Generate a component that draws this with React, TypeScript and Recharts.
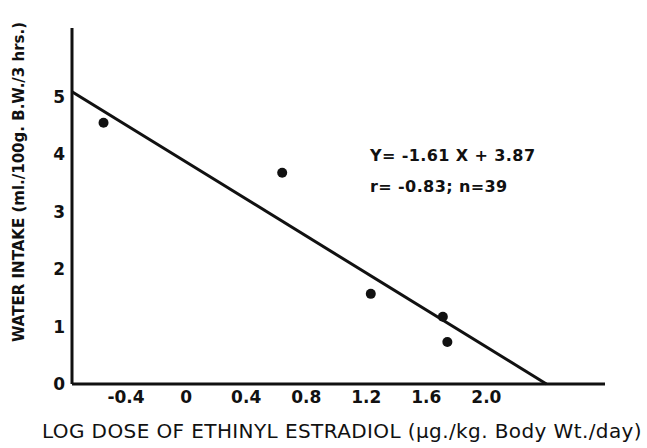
import { ScatterChart, Scatter, XAxis, YAxis, ReferenceLine } from 'recharts';

const FONT = '"DejaVu Sans", sans-serif';
const INK = '#111';

// log dose vs water intake
const logDose = [-0.55, 0.64, 1.23, 1.71, 1.74];
const waterIntake = [4.55, 3.68, 1.57, 1.17, 0.73];

// regression line end points (Y = -1.61 X + 3.87), as drawn
const fitX = [-0.76, 2.4];
const fitY = [5.09, 0];

const xTicks = [-0.4, 0, 0.4, 0.8, 1.2, 1.6, 2.0];
const xTickLabels = ['-0.4', '0', '0.4', '0.8', '1.2', '1.6', '2.0'];
const yTicks = [0, 1, 2, 3, 4, 5];

const points = logDose.map((x, i) => ({ x, y: waterIntake[i] }));

const tickStyle = { fill: INK, fontSize: 17, fontWeight: 600, fontFamily: FONT };

export default function App() {
  return (
    <div style={{ position: 'absolute', left: 0, top: 0, width: 647, height: 448, background: '#fff' }}>
      <ScatterChart
        width={647}
        height={448}
        margin={{ top: 28, right: 42, left: 0, bottom: 0 }}
      >
        <XAxis
          type="number"
          dataKey="x"
          domain={[-0.76, 2.79]}
          ticks={xTicks}
          tickFormatter={(v: number) => xTickLabels[xTicks.indexOf(v)] ?? String(v)}
          height={64}
          axisLine={{ stroke: INK, strokeWidth: 3 }}
          tickLine={false}
          tickSize={0}
          tickMargin={7}
          tick={tickStyle}
          interval={0}
        />
        <YAxis
          type="number"
          dataKey="y"
          domain={[0, 6.2]}
          ticks={yTicks}
          width={72}
          axisLine={{ stroke: INK, strokeWidth: 3 }}
          tickLine={false}
          tickSize={0}
          tickMargin={7}
          tick={tickStyle}
          interval={0}
        />
        <ReferenceLine
          segment={[
            { x: fitX[0], y: fitY[0] },
            { x: fitX[1], y: fitY[1] },
          ]}
          stroke={INK}
          strokeWidth={3}
          ifOverflow="visible"
        />
        <Scatter
          data={points}
          isAnimationActive={false}
          shape={(p: any) => <circle cx={p.cx} cy={p.cy} r={5} fill={INK} />}
        />
      </ScatterChart>
      <svg
        width={647}
        height={448}
        style={{ position: 'absolute', left: 0, top: 0, pointerEvents: 'none' }}
        fontFamily={FONT}
        fill={INK}
      >
        <text transform="translate(24,182) rotate(-90)" textAnchor="middle" fontSize={15} fontWeight={600}>
          WATER INTAKE (ml./100g. B.W./3 hrs.)
        </text>
        <text x={342} y={438} textAnchor="middle" fontSize={20} fontWeight={500} letterSpacing={0.4}>
          LOG DOSE OF ETHINYL ESTRADIOL (µg./kg. Body Wt./day)
        </text>
        <text x={370} y={161} fontSize={16} fontWeight={600} letterSpacing={0.4}>Y= -1.61 X + 3.87</text>
        <text x={370} y={192} fontSize={16} fontWeight={600} letterSpacing={0.4}>r= -0.83; n=39</text>
      </svg>
    </div>
  );
}
